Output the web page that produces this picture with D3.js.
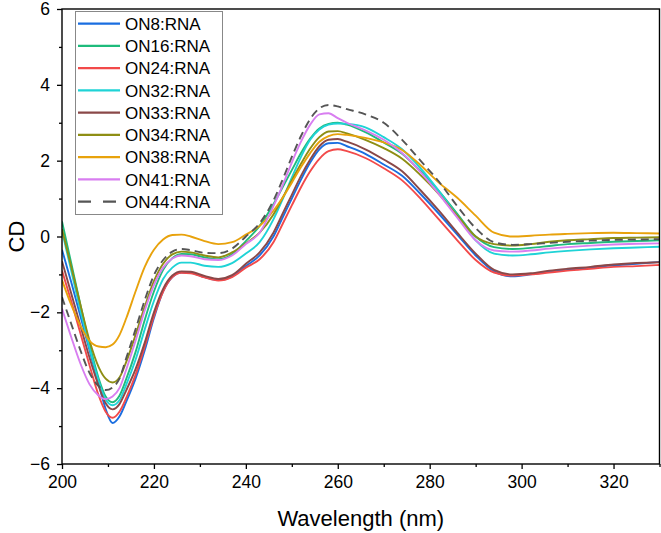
<!DOCTYPE html>
<html><head><meta charset="utf-8">
<script src="https://cdn.jsdelivr.net/npm/d3@7"></script>
<style>body{margin:0;background:#fff}svg{display:block}text{font-family:"Liberation Sans",Arial,sans-serif}</style>
</head><body><svg id="c" width="661" height="533"></svg>
<script>
const wavelengths = [200,202,204,206,208,209.5,211,212.5,214,216,218,220,222,224,226,228,231,234,237,240,243,246,248,250,252,254,256,258,260,262,266,270,274,278,282,286,290,294,298,302,306,310,315,320,325,330];
const seriesNames = ["ON8:RNA","ON16:RNA","ON24:RNA","ON32:RNA","ON33:RNA","ON34:RNA","ON38:RNA","ON41:RNA","ON44:RNA"];
const seriesColors = ["#1a6ee0","#1ebb7c","#f24a4a","#1fd3d6","#8a4848","#8e8e14","#e8a20c","#d87ef0","#555555"];
const on8  = [-0.35,-1.2,-2.1,-3.0,-3.9,-4.55,-4.92,-4.75,-4.35,-3.75,-3.0,-2.15,-1.45,-1.07,-0.95,-0.96,-1.07,-1.15,-1.05,-0.78,-0.5,0.0,0.5,1.0,1.5,1.95,2.3,2.46,2.47,2.38,2.18,1.9,1.6,1.12,0.6,0.05,-0.5,-0.92,-1.05,-1.0,-0.93,-0.88,-0.82,-0.76,-0.72,-0.67];
const on16 = [0.4,-0.7,-1.8,-2.85,-3.75,-4.22,-4.37,-4.2,-3.75,-3.05,-2.2,-1.45,-0.88,-0.57,-0.46,-0.47,-0.55,-0.6,-0.47,-0.12,0.28,0.85,1.3,1.75,2.2,2.58,2.85,2.97,3.0,2.95,2.75,2.48,2.18,1.72,1.2,0.6,0.0,-0.28,-0.33,-0.3,-0.25,-0.2,-0.17,-0.14,-0.12,-0.1];
const on24 = [-0.9,-1.7,-2.55,-3.4,-4.2,-4.62,-4.78,-4.62,-4.25,-3.65,-2.9,-2.1,-1.45,-1.07,-0.96,-0.97,-1.08,-1.16,-1.07,-0.82,-0.6,-0.15,0.33,0.82,1.3,1.72,2.05,2.25,2.3,2.25,2.07,1.8,1.48,1.0,0.45,-0.1,-0.62,-0.95,-1.03,-1.0,-0.95,-0.9,-0.85,-0.8,-0.78,-0.75];
const on32 = [0.15,-0.9,-1.95,-2.95,-3.82,-4.3,-4.45,-4.32,-3.9,-3.25,-2.45,-1.7,-1.12,-0.82,-0.69,-0.69,-0.77,-0.8,-0.7,-0.45,-0.15,0.45,0.98,1.55,2.1,2.55,2.82,2.95,2.98,2.97,2.88,2.62,2.3,1.8,1.2,0.55,-0.1,-0.45,-0.5,-0.47,-0.42,-0.38,-0.34,-0.31,-0.29,-0.27];
const on33 = [-0.65,-1.5,-2.35,-3.2,-3.95,-4.4,-4.56,-4.42,-4.05,-3.5,-2.8,-2.0,-1.38,-1.03,-0.92,-0.93,-1.04,-1.12,-1.02,-0.72,-0.42,0.1,0.6,1.1,1.6,2.03,2.38,2.55,2.57,2.5,2.3,2.03,1.72,1.22,0.68,0.1,-0.45,-0.88,-1.0,-0.97,-0.9,-0.85,-0.8,-0.74,-0.7,-0.68];
const on34 = [0.2,-0.8,-1.8,-2.75,-3.45,-3.75,-3.85,-3.72,-3.3,-2.6,-1.85,-1.18,-0.72,-0.47,-0.4,-0.42,-0.5,-0.55,-0.42,-0.18,0.1,0.58,1.02,1.48,1.92,2.32,2.62,2.77,2.78,2.72,2.55,2.33,2.05,1.62,1.12,0.55,0.0,-0.2,-0.24,-0.2,-0.14,-0.1,-0.07,-0.04,-0.03,-0.02];
const on38 = [-1.15,-1.8,-2.35,-2.75,-2.9,-2.92,-2.85,-2.6,-2.15,-1.45,-0.8,-0.35,-0.08,0.04,0.05,0.0,-0.12,-0.2,-0.15,0.05,0.28,0.68,1.02,1.42,1.83,2.2,2.5,2.65,2.7,2.68,2.6,2.48,2.28,1.88,1.42,1.02,0.55,0.1,0.0,0.02,0.05,0.07,0.09,0.1,0.09,0.08];
const on41 = [-1.9,-2.65,-3.35,-3.9,-4.2,-4.29,-4.22,-4.0,-3.5,-2.75,-1.95,-1.28,-0.82,-0.58,-0.5,-0.52,-0.6,-0.62,-0.5,-0.2,0.1,0.8,1.35,1.95,2.5,2.95,3.22,3.25,3.12,3.0,2.8,2.55,2.2,1.7,1.12,0.5,-0.1,-0.37,-0.4,-0.37,-0.32,-0.28,-0.24,-0.21,-0.19,-0.18];
const on44 = [-1.6,-2.3,-3.0,-3.6,-3.95,-4.05,-3.98,-3.75,-3.2,-2.45,-1.68,-1.02,-0.62,-0.4,-0.33,-0.36,-0.43,-0.44,-0.32,0.0,0.35,0.95,1.5,2.1,2.65,3.1,3.38,3.47,3.43,3.36,3.22,3.0,2.55,2.0,1.45,0.8,0.22,-0.15,-0.22,-0.2,-0.17,-0.14,-0.11,-0.09,-0.08,-0.07];
const seriesValues = [on8,on16,on24,on32,on33,on34,on38,on41,on44];
const xMajorTicks = [200,220,240,260,280,300,320];
const xMinorTicks = [210,230,250,270,290,310,330];
const yMajorTicks = [-6,-4,-2,0,2,4,6];
const yMinorTicks = [-5,-3,-1,1,3,5];

const svg = d3.select("#c");
const L=62, R=659.5, T=9, B=464;
const x = d3.scaleLinear().domain([200,330]).range([L,R]);
const y = d3.scaleLinear().domain([-6,6]).range([B,T]);
const fmt = d => (d<0? "\u2212"+Math.abs(d) : ""+d);

svg.append("defs").append("clipPath").attr("id","pc").append("rect")
  .attr("x",L).attr("y",T).attr("width",R-L).attr("height",B-T);

// lines
const line = d3.line().x((d,i)=>x(wavelengths[i])).y(d=>y(d)).curve(d3.curveMonotoneX);
const g = svg.append("g").attr("clip-path","url(#pc)");
seriesValues.forEach((vals,k)=>{
  g.append("path").attr("d",line(vals)).attr("fill","none")
    .attr("stroke",seriesColors[k]).attr("stroke-width",1.9)
    .attr("stroke-dasharray", k===8 ? "8,5" : null)
    .attr("stroke-linejoin","round");
});

// axes
const ax = svg.append("g").attr("transform",`translate(0,${B})`)
  .call(d3.axisBottom(x).tickValues(xMajorTicks).tickSize(5).tickPadding(7).tickFormat(fmt));
const axm = svg.append("g").attr("transform",`translate(0,${B})`)
  .call(d3.axisBottom(x).tickValues(xMinorTicks).tickSize(3).tickFormat(""));
const ay = svg.append("g").attr("transform",`translate(${L},0)`)
  .call(d3.axisLeft(y).tickValues(yMajorTicks).tickSize(5).tickPadding(7).tickFormat(fmt));
const aym = svg.append("g").attr("transform",`translate(${L},0)`)
  .call(d3.axisLeft(y).tickValues(yMinorTicks).tickSize(3).tickFormat(""));
[ax,axm,ay,aym].forEach(a=>{
  a.select(".domain").remove();
  a.selectAll("line").attr("stroke","#000").attr("stroke-width",1.3);
  a.selectAll("text").attr("font-size",17.5).attr("fill","#000").attr("font-family","Liberation Sans, Arial, sans-serif");
});

// frame
svg.append("rect").attr("x",L).attr("y",T).attr("width",R-L).attr("height",B-T)
  .attr("fill","none").attr("stroke","#000").attr("stroke-width",1.4);

// axis titles
svg.append("text").attr("x",(L+R)/2).attr("y",526).attr("text-anchor","middle")
  .attr("font-size",22).text("Wavelength (nm)");
svg.append("text").attr("transform",`translate(24,${(T+B)/2}) rotate(-90)`).attr("text-anchor","middle")
  .attr("font-size",22).text("CD");

// legend
const lg = svg.append("g");
lg.append("rect").attr("x",75.5).attr("y",11.5).attr("width",147).attr("height",203)
  .attr("fill","#fff").attr("stroke","#888").attr("stroke-width",1);
seriesNames.forEach((n,k)=>{
  const cy = 23.7 + k*22.25;
  lg.append("line").attr("x1",78).attr("x2",k===8?116:120).attr("y1",cy).attr("y2",cy)
    .attr("stroke",seriesColors[k]).attr("stroke-width",2.2)
    .attr("stroke-dasharray",k===8?"13,12":null);
  lg.append("text").attr("x",125).attr("y",cy).attr("dy","0.36em")
    .attr("font-size",17).attr("fill","#000").text(n);
});
</script></body></html>
